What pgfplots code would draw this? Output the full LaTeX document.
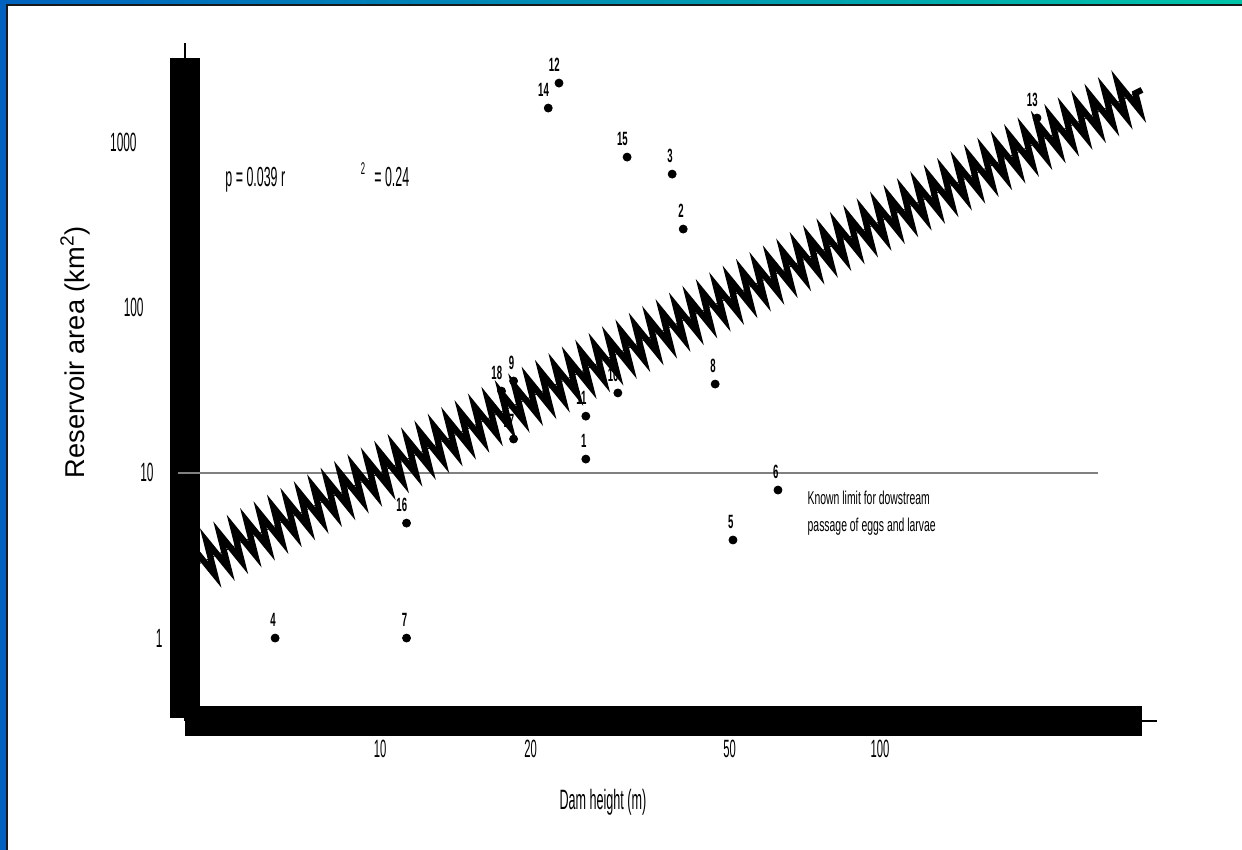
\documentclass[border=0pt]{standalone}
\usepackage{fontspec}
\setmainfont{Liberation Sans}
\newfontfamily\narrow{Liberation Sans}[FakeStretch=0.45]
\newfontfamily\narrowlbl{Liberation Sans}[FakeStretch=0.5]
\newfontfamily\narrowb{Liberation Sans}[FakeStretch=0.56]
\usepackage{pgfplots}
\pgfplotsset{compat=1.18}
\usepackage{pgfplotstable}
\usetikzlibrary{decorations.pathmorphing}
\definecolor{frameblue}{RGB}{0,98,190}
\definecolor{frameteal}{RGB}{0,196,168}
\definecolor{framedark}{RGB}{25,25,25}

\pgfplotstableread{
x y label
25.8 12.1 1
40.4 298 2
38.4 641 3
6.17 1 4
50.8 3.92 5
62.5 7.86 6
11.3 1 7
46.8 34.4 8
18.5 35.9 9
29.9 30.4 10
25.8 22.0 11
22.8 2277 12
206 1400 13
21.7 1608 14
31.2 812 15
11.3 4.96 16
18.5 16.0 17
17.5 31.2 18
}\damdata

\begin{document}
\begin{tikzpicture}
\path[use as bounding box] (0,0) rectangle (621pt,425pt);
\fill[white] (0,0) rectangle (621pt,425pt);
\begin{axis}[
  at={(92.5pt,64.5pt)}, anchor=south west,
  scale only axis, width=486pt, height=339pt,
  xmode=log, ymode=log,
  xmin=4.074, xmax=358, ymin=0.315, ymax=3981,
  axis x line*=bottom, axis y line*=left,
  axis line style={line width=0.75pt, -},
  xtick={10,20,50,100}, xticklabels={10,20,50,100},
  ytick={1,10,100,1000},
  yticklabels={1, 10\hspace*{4.5pt}, 100\hspace*{9.5pt}, 1000\hspace*{13pt}},
  xminorticks=false, yminorticks=false,
  tick style={draw=none}, major tick length=0pt,
  xticklabel style={font=\narrow\fontsize{12.5}{14}\selectfont, inner sep=0pt, anchor=north, yshift=-9.5pt},
  yticklabel style={font=\narrow\fontsize{13.2}{15}\selectfont, inner sep=0pt, anchor=east, xshift=-11pt},
  xlabel={Dam height (m)},
  xlabel style={at={(axis description cs:0.43,-0.1195)}, anchor=center, font=\narrow\fontsize{14}{16}\selectfont},
  ylabel={Reservoir area (km\textsuperscript{2})},
  ylabel style={at={(axis description cs:-0.1131,0.544)}, anchor=center, font=\fontsize{13.6}{16}\selectfont},
  clip=false,
]
% thick axis bars
\fill[black] (rel axis cs:-0.01543,0.00442) rectangle (rel axis cs:0.01543,0.9779);
\fill[black] (rel axis cs:0,-0.02212) rectangle (rel axis cs:0.98457,0.02212);
% known limit line
\addplot[gray, line width=1pt, mark=none] coordinates {(3.94,10) (273,10)};
% dams
\addplot[only marks, mark=*, mark size=2pt, black,
  nodes near coords, point meta=explicit symbolic,
  every node near coord/.style={anchor=south east, inner sep=0pt, xshift=0.5pt, yshift=5.5pt, font=\narrowlbl\bfseries\fontsize{9.6}{11}\selectfont, text=black}]
  table[x=x, y=y, meta=label] {\damdata};
% regression band
\addplot[black, line width=3.1pt, decorate, decoration={zigzag, segment length=7.5pt, amplitude=8.5pt}] coordinates {(4.31,2.78) (334,2070)};
\addplot[black, line width=0.4pt] coordinates {(4.31,2.78) (334,2070)};
% annotations
\node[anchor=base west, inner sep=0pt, font=\narrow\fontsize{13.8}{15}\selectfont] at (axis description cs:0.0412,0.7876) {p = 0.039 r};
\node[anchor=base, inner sep=0pt, font=\narrow\fontsize{8.5}{9}\selectfont] at (axis description cs:0.1831,0.8053) {2};
\node[anchor=base west, inner sep=0pt, font=\narrow\fontsize{13.8}{15}\selectfont] at (axis description cs:0.1944,0.7876) {= 0.24};
\node[anchor=base west, inner sep=0pt, font=\narrowb\fontsize{9.3}{11}\selectfont] at (axis description cs:0.6402,0.3186) {Known limit for dowstream};
\node[anchor=base west, inner sep=0pt, font=\narrowb\fontsize{9.3}{11}\selectfont] at (axis description cs:0.6402,0.2788) {passage of eggs and larvae};
\end{axis}
% frame
\shade[left color=frameblue, right color=frameteal] (0,423pt) rectangle (621pt,425pt);
\fill[framedark] (0,422pt) rectangle (621pt,423pt);
\fill[frameblue] (0,0) rectangle (3pt,425pt);
\fill[framedark] (3pt,0) rectangle (3.85pt,422pt);
\end{tikzpicture}
\end{document}
